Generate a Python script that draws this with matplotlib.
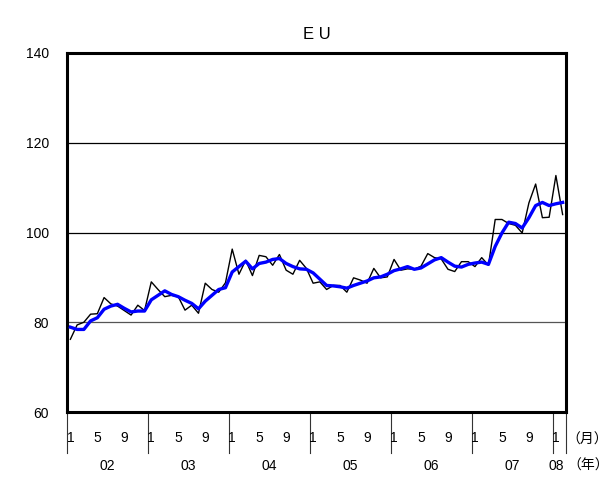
import matplotlib
matplotlib.use("Agg")
import matplotlib.pyplot as plt
import numpy as np

plt.rcParams["font.family"] = ["Liberation Sans", "Noto Sans CJK JP", "DejaVu Sans"]

# monthly index, Jan 2002 .. Feb 2008
raw = [76.2, 79.4, 80.0, 81.8, 81.9, 85.5, 84.1, 83.6, 82.6, 81.6, 83.8, 82.6,
       89.0, 87.3, 85.7, 86.0, 85.7, 82.7, 83.8, 82.0, 88.7, 87.3, 86.7, 88.8,
       96.3, 90.7, 93.8, 90.4, 94.9, 94.6, 92.7, 95.1, 91.6, 90.7, 93.8, 92.0,
       88.7, 89.0, 87.3, 88.2, 88.2, 86.7, 89.9, 89.4, 88.7, 92.0, 89.9, 90.1,
       94.0, 91.6, 91.9, 91.8, 92.5, 95.3, 94.4, 94.1, 91.8, 91.3, 93.5, 93.5,
       92.4, 94.4, 92.7, 102.9, 102.9, 102.0, 101.6, 99.9, 106.6, 110.8, 103.3, 103.4,
       112.7, 104.0]
trend = [78.9, 78.4, 78.4, 80.3, 81.0, 82.9, 83.6, 84.0, 83.1, 82.3, 82.5, 82.5,
         85.0, 86.0, 87.0, 86.2, 85.7, 84.9, 84.2, 83.0, 84.7, 86.0, 87.3, 87.7,
         91.2, 92.4, 93.6, 91.9, 93.1, 93.4, 94.0, 94.2, 93.1, 92.4, 91.9, 91.8,
         91.0, 89.6, 88.2, 88.1, 87.9, 87.6, 88.2, 88.7, 89.2, 89.9, 90.1, 90.7,
         91.5, 91.9, 92.4, 91.8, 92.1, 93.0, 93.9, 94.4, 93.4, 92.5, 92.3, 92.9,
         93.2, 93.4, 92.9, 96.9, 99.9, 102.3, 102.0, 101.0, 103.3, 106.0, 106.7, 106.0,
         106.4, 106.7]
month_ticks = ["1", "5", "9"]
years = ["02", "03", "04", "05", "06", "07", "08"]
yticks = [60, 80, 100, 120, 140]

x = np.arange(len(raw))

fig = plt.figure(figsize=(6.14, 4.83), dpi=100)
ax = fig.add_axes([67 / 614, 71 / 483, 499 / 614, 359 / 483])

for v in [80, 100, 120]:
    ax.axhline(v, color="#555555" if v == 80 else "black", lw=0.9, zorder=1)
ax.plot(x, raw, color="black", lw=1.0, zorder=2)
ax.plot(x, trend, color="#0000ff", lw=2.4, zorder=3)

ax.set_xlim(-0.5, len(raw) - 0.5)
ax.set_ylim(60, 140)
ax.set_yticks(yticks)
ax.tick_params(axis="y", length=0, labelsize=10, pad=13)
ax.set_xticks([])
for s in ax.spines.values():
    s.set_linewidth(2.2)

ax.set_title("E U", fontsize=12, pad=10)

# category labels under the axis
trans = ax.get_xaxis_transform()
bounds = [-0.5 + 12 * k for k in range(len(years))] + [len(raw) - 0.5]
for b in bounds:
    ax.plot([b, b], [0, -0.115], transform=trans, color="#333333", lw=0.8, clip_on=False)
for k, yr in enumerate(years):
    start = 12 * k
    for m, lab in zip([0, 4, 8], month_ticks):
        if start + m < len(raw):
            ax.text(start + m, -0.072, lab, transform=trans, ha="center", va="center", fontsize=10)
    mid = (bounds[k] + bounds[k + 1]) / 2
    ax.text(mid - (0.4 if yr == "08" else 0), -0.15, yr, transform=trans,
            ha="center", va="center", fontsize=10)
ax.text(1.042, -0.078, "（月）", transform=ax.transAxes, ha="center", va="center", fontsize=10)
ax.text(1.045, -0.15, "（年）", transform=ax.transAxes, ha="center", va="center", fontsize=10)

fig.savefig("out.png", dpi=100)
